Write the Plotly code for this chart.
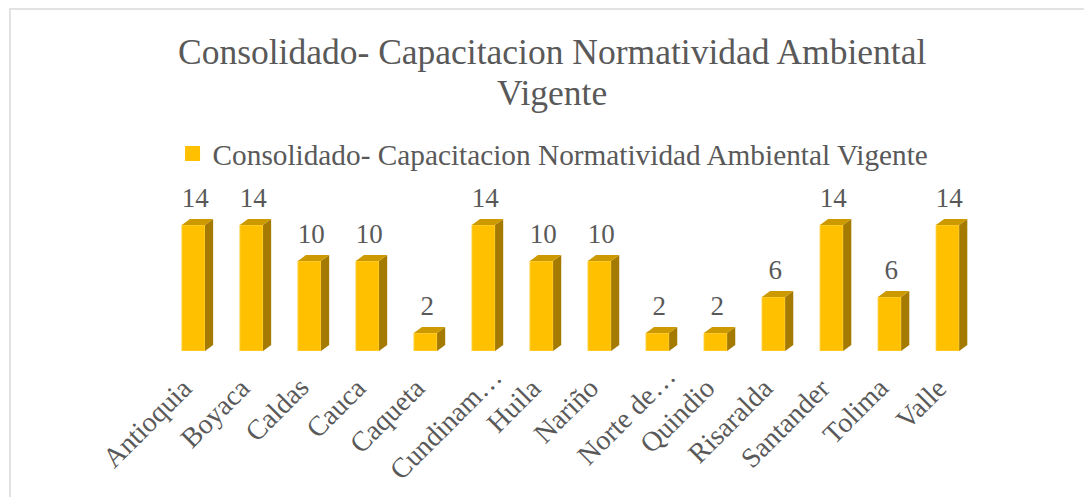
# plot.py
# Balkendiagramm (Excel-3D-Stil) mit Plotly nachgebaut

import plotly.graph_objects as go

categorias = ["Antioquia", "Boyaca", "Caldas", "Cauca", "Caqueta", "Cundinam…",
              "Huila", "Nariño", "Norte de…", "Quindio", "Risaralda", "Santander",
              "Tolima", "Valle"]
valores = [14, 14, 10, 10, 2, 14, 10, 10, 2, 2, 6, 14, 6, 14]
serie = "Consolidado- Capacitacion Normatividad Ambiental Vigente"
titulo = ["Consolidado- Capacitacion Normatividad Ambiental", "Vigente"]

FUENTE = "Liberation Serif, Times New Roman, serif"
GRIS = "#595959"
FRENTE = "#FFC000"
LADO = "#A47A00"
TAPA = "#CC9A00"

ANCHO = 0.40   # Balkenbreite (x-Einheiten)
DX = 0.14      # Tiefe in x
DY = 0.67      # Tiefe in y

pos = list(range(len(categorias)))

fig = go.Figure()
fig.add_trace(
    go.Bar(
        x=pos,
        y=valores,
        width=ANCHO,
        marker=dict(color=FRENTE, line=dict(color="#FFD75A", width=0.8)),
        showlegend=False,
        hoverinfo="skip",
    )
)
# Legenden-Eintrag
fig.add_trace(
    go.Scatter(
        x=[None], y=[None],
        mode="markers",
        marker=dict(symbol="square", size=15, color=FRENTE),
        name=serie,
    )
)
# Datenbeschriftungen
fig.add_trace(
    go.Scatter(
        x=[p + 0.03 for p in pos],
        y=[v + DY + 0.6 for v in valores],
        mode="text",
        text=[str(v) for v in valores],
        textposition="top center",
        textfont=dict(family=FUENTE, size=27, color=GRIS),
        cliponaxis=False,
        showlegend=False,
        hoverinfo="skip",
    )
)

# Seiten- und Deckflächen für den 3D-Effekt
shapes = []
for p, v in zip(pos, valores):
    xl, xr = p - ANCHO / 2, p + ANCHO / 2
    lado = (f"M{xr},0 L{xr + DX},{DY} L{xr + DX},{v + DY} L{xr},{v} Z")
    tapa = (f"M{xl},{v} L{xr},{v} L{xr + DX},{v + DY} L{xl + DX},{v + DY} Z")
    shapes.append(dict(type="path", xref="x", yref="y", path=lado,
                       fillcolor=LADO, line=dict(width=0), layer="above"))
    shapes.append(dict(type="path", xref="x", yref="y", path=tapa,
                       fillcolor=TAPA, line=dict(width=0), layer="above"))

# Rahmen des Diagrammbereichs
shapes.append(dict(type="rect", xref="paper", yref="paper",
                   x0=-0.1618, x1=1.2, y0=-1.2, y1=2.111,
                   line=dict(color="#D9D9D9", width=1.5), layer="below"))

# Titel (zwei Zeilen als Annotationen)
PH = 162.0  # Höhe der Zeichenfläche in px
annotations = []
for texto, yc in zip(titulo, [52, 93]):
    annotations.append(dict(
        text=texto, xref="paper", yref="paper",
        x=(552 - 147) / 846.8, y=(351 - yc) / PH,
        xanchor="center", yanchor="middle", showarrow=False,
        font=dict(family=FUENTE, size=35.5, color=GRIS),
    ))

# Kategorienbeschriftung, 45° gedreht; gekürzte Texte sitzen wie in Excel versetzt
for p, cat in zip(pos, categorias):
    corto = cat.endswith("…")
    annotations.append(dict(
        text=cat, xref="x", yref="paper",
        x=p, y=(351 - 369) / PH,
        xanchor="right", yanchor="top", textangle=-45, showarrow=False,
        xshift=8 + (19 if corto else 0), yshift=11 if corto else 0,
        font=dict(family=FUENTE, size=28, color=GRIS),
    ))

# Seite hat 8px Body-Rand -> Ränder entsprechend verschoben
fig.update_layout(
    width=1092,
    height=497,
    paper_bgcolor="white",
    plot_bgcolor="white",
    margin=dict(l=139, r=106, t=181, b=154, autoexpand=False),
    font=dict(family=FUENTE, color=GRIS),
    legend=dict(
        orientation="h",
        x=0.0337 - 3 / 846.8,
        xanchor="left",
        y=(351 - 154) / PH,
        yanchor="middle",
        font=dict(family=FUENTE, size=29.3, color=GRIS),
        bgcolor="rgba(0,0,0,0)",
    ),
    xaxis=dict(
        range=[-0.8, 13.8],
        showticklabels=False,
        showgrid=False,
        showline=False,
        zeroline=False,
        ticks="",
        fixedrange=True,
    ),
    yaxis=dict(
        range=[0, 18],
        visible=False,
        fixedrange=True,
    ),
    annotations=annotations,
    shapes=shapes,
    bargap=0.3,
)

fig.write_html("out.html")
